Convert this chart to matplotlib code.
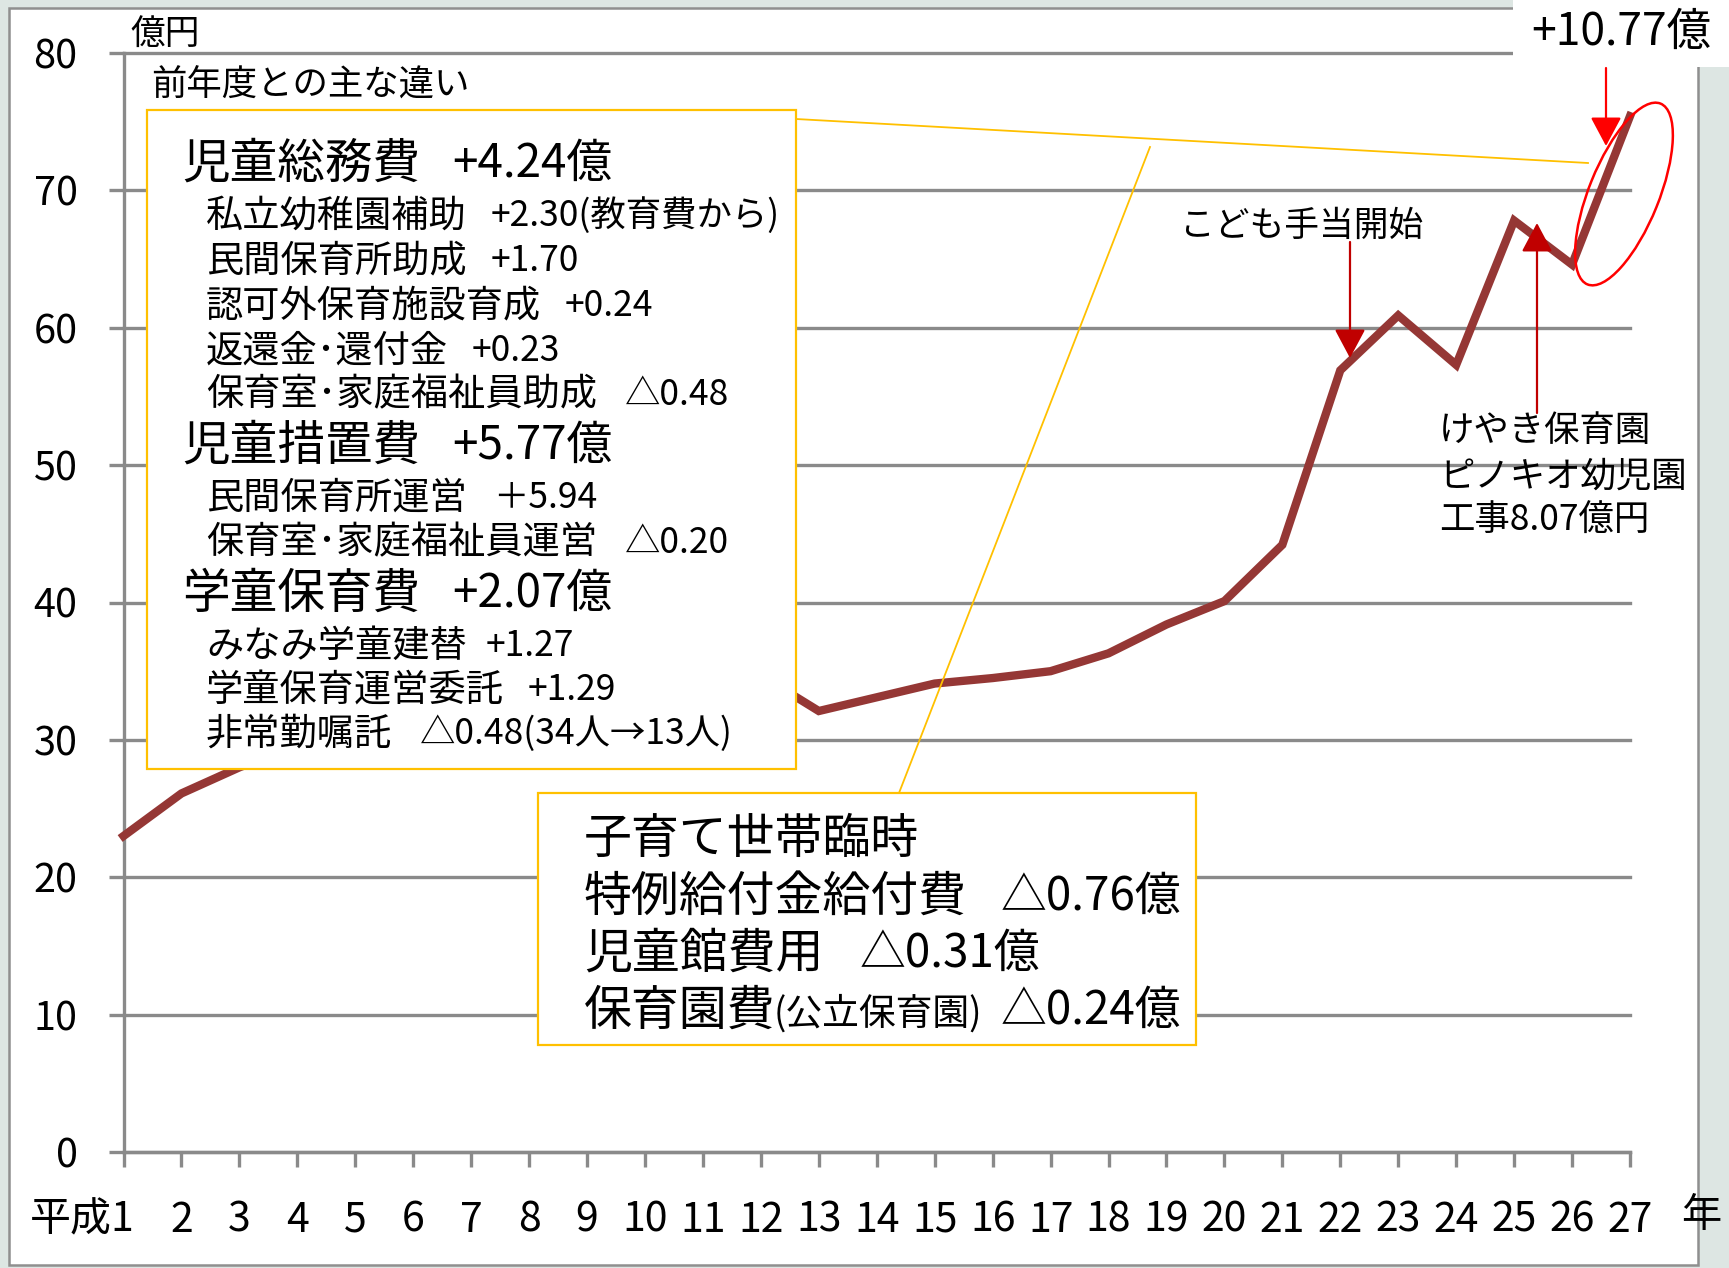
import matplotlib
matplotlib.use('Agg')
import matplotlib.pyplot as plt
import matplotlib.transforms as mtransforms
from matplotlib.patches import Rectangle, Ellipse, FancyArrowPatch
from matplotlib.lines import Line2D

plt.rcParams['font.family'] = ['Noto Sans CJK JP', 'DejaVu Sans']

W, H, DPI = 1729, 1268, 100

# 児童福祉費の推移 (億円)
years = list(range(1, 28))
year_labels = ['平成1'] + [str(y) for y in years[1:]]
spending = [23.0, 26.1, 28.0, 29.6, 31.0, 32.2, 33.0, 33.8, 34.3, 34.8, 35.2, 34.7,
            32.1, 33.1, 34.1, 34.5, 35.0, 36.3, 38.4, 40.1, 44.2, 56.9, 60.9, 57.3,
            67.8, 64.6, 75.4]
y_ticks = [0, 10, 20, 30, 40, 50, 60, 70, 80]

# 前年度との主な違い
box1_labels = ['児童総務費', '私立幼稚園補助', '民間保育所助成', '認可外保育施設育成',
               '返還金･還付金', '保育室･家庭福祉員助成', '児童措置費', '民間保育所運営',
               '保育室･家庭福祉員運営', '学童保育費', 'みなみ学童建替', '学童保育運営委託',
               '非常勤嘱託']
box1_values = ['+4.24億', '+2.30(教育費から)', '+1.70', '+0.24', '+0.23', '△0.48',
               '+5.77億', '＋5.94', '△0.20', '+2.07億', '+1.27', '+1.29',
               '△0.48(34人→13人)']
box1_heading = [True, False, False, False, False, False, True, False, False, True,
                False, False, False]

box2_labels = ['子育て世帯臨時', '特例給付金給付費', '児童館費用', '保育園費']
box2_values = ['', '△0.76億', '△0.31億', '△0.24億']
box2_note = '(公立保育園)'

# layout (pixels from top-left of the 1729x1268 picture)
box1_y = [164, 216, 261, 306, 351, 395, 446, 498, 543, 594, 646, 690, 734]
box1_vx = [452, 491, 491, 565, 472, 625, 452, 493, 625, 452, 486, 528, 420]
box2_y = [839, 897, 954, 1011]
box2_vx = [0, 1001, 860, 1001]


def px(x, y):
    return (x / DPI, (H - y) / DPI)


fig = plt.figure(figsize=(W / DPI, H / DPI), dpi=DPI, facecolor='#dde6e3')
inch = fig.dpi_scale_trans

# slide frame
x0, y0 = px(9, 1265)
fig.add_artist(Rectangle((x0, y0), 1689 / DPI, 1257 / DPI, transform=inch,
                         facecolor='white', edgecolor='#8f8f8f', lw=1.8, zorder=-1))

ax = fig.add_axes([123.5 / W, 1 - 1152 / H, (1630 - 123.5) / W, (1152 - 53) / H])
ax.set_facecolor('none')
ax.plot(years, spending, color='#953735', lw=6, solid_joinstyle='miter',
        clip_on=False, zorder=3)
ax.set_xlim(1, 27)
ax.set_ylim(0, 80)
ax.set_yticks(y_ticks)
ax.set_xticks(years)
ax.set_xticklabels(year_labels)
ax.yaxis.grid(True, color='#8a8a8a', lw=2.4)
for gl in ax.get_ygridlines():
    gl.set_clip_on(False)
ax.set_axisbelow(True)
for s in ['top', 'right']:
    ax.spines[s].set_visible(False)
for s in ['left', 'bottom']:
    ax.spines[s].set_color('#8a8a8a')
    ax.spines[s].set_linewidth(2.4)
ax.tick_params(axis='y', direction='out', length=11, width=2.4, color='#8a8a8a',
               labelsize=28.5, pad=22)
ax.tick_params(axis='x', direction='out', length=10.5, width=2.4, color='#8a8a8a',
               labelsize=29.5, pad=24)
first = ax.get_xticklabels()[0]
first.set_ha('right')
first.set_transform(first.get_transform() + mtransforms.ScaledTranslation(0.115, 0, inch))

# unit labels
fig.text(*px(130, 35), '億円', transform=inch, fontsize=25, va='center')
fig.text(*px(1701, 1216), '年', transform=inch, fontsize=29, va='center', ha='center')
fig.text(*px(151, 86), '前年度との主な違い', transform=inch, fontsize=25.5, va='center')

# yellow connectors
yellow = '#FFC000'
for (xa, ya), (xb, yb) in [((796, 119), (1588, 163)), ((899, 793), (1150, 147))]:
    fig.add_artist(Line2D([xa / DPI, xb / DPI], [(H - ya) / DPI, (H - yb) / DPI],
                          transform=inch, color=yellow, lw=1.3, zorder=2))

# box 1
bx, by = px(147, 769)
fig.add_artist(Rectangle((bx, by), 649 / DPI, 659 / DPI, transform=inch,
                         facecolor='white', edgecolor=yellow, lw=1.6, zorder=3))
for lab, val, head, yy, vx in zip(box1_labels, box1_values, box1_heading, box1_y, box1_vx):
    size = 34.3 if head else 26.8
    lx = 182 if head else 206
    fig.text(*px(lx, yy), lab, transform=inch, fontsize=size, va='center', zorder=4)
    fig.text(*px(vx, yy), val, transform=inch, fontsize=33 if head else 25.5,
             va='center', zorder=4)

# box 2
bx, by = px(538, 1045)
fig.add_artist(Rectangle((bx, by), 658 / DPI, 252 / DPI, transform=inch,
                         facecolor='white', edgecolor=yellow, lw=1.6, zorder=3))
for lab, val, yy, vx in zip(box2_labels, box2_values, box2_y, box2_vx):
    fig.text(*px(584, yy), lab, transform=inch, fontsize=34.5, va='center', zorder=4)
    if val:
        fig.text(*px(vx, yy), val, transform=inch, fontsize=33, va='center', zorder=4)
fig.text(*px(774, 1014), box2_note, transform=inch, fontsize=26.5, va='center', zorder=4)

# top-right label on white patch
fig.add_artist(Rectangle(px(1513, 67), 216 / DPI, 67 / DPI, transform=inch,
                         facecolor='white', edgecolor='none', zorder=1))
fig.text(*px(1621, 32), '+10.77億', transform=inch, fontsize=32, va='center',
         ha='center', zorder=4)

# red ellipse
fig.add_artist(Ellipse(px(1624, 194), 70 / DPI, 195 / DPI, angle=-22, transform=inch,
                       fill=False, edgecolor='#FF0000', lw=1.8, zorder=4))

# arrows
arrows = [((1606, 68), (1606, 146), '#FF0000'),
          ((1350, 242), (1350, 358), '#C00000'),
          ((1537, 413), (1537, 223), '#C00000')]
for a, b, c in arrows:
    fig.add_artist(FancyArrowPatch(px(*a), px(*b), transform=inch,
                                   arrowstyle='-|>,head_length=0.9,head_width=0.48',
                                   mutation_scale=20, color=c, lw=1.6,
                                   shrinkA=0, shrinkB=0, zorder=5))

fig.text(*px(1180, 226), 'こども手当開始', transform=inch, fontsize=25, va='center')
for txt, yy in zip(['けやき保育園', 'ピノキオ幼児園', '工事8.07億円'], [431, 477, 521]):
    fig.text(*px(1439, yy), txt, transform=inch, fontsize=25.5, va='center')

fig.savefig('out.png', dpi=DPI, facecolor=fig.get_facecolor())
